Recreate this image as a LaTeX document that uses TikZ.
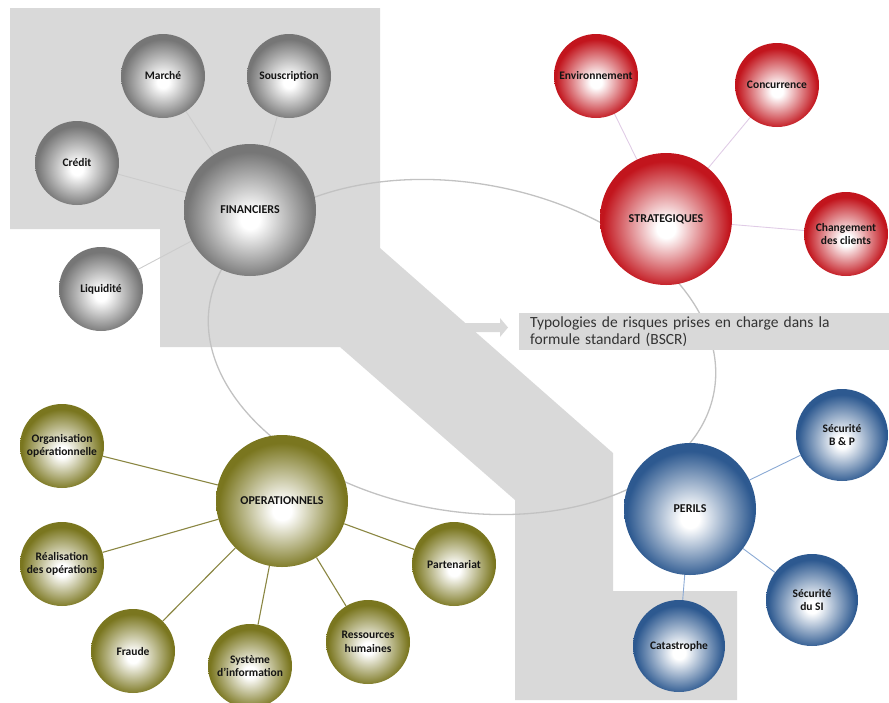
\documentclass[tikz,border=0pt]{standalone}
\usepackage{fontspec}
\setmainfont{Carlito}
\definecolor{panelgray}{HTML}{D9D9D9}
\definecolor{orbitgray}{HTML}{C2C2C2}
\definecolor{labelink}{HTML}{141414}
\definecolor{notetext}{HTML}{333333}
\definecolor{hubgray}{HTML}{767676}
\definecolor{hubred}{HTML}{C2151D}
\definecolor{hubolive}{HTML}{7A761F}
\definecolor{hubblue}{HTML}{2D5990}
\definecolor{linkgray}{HTML}{CCCCCC}
\definecolor{linkred}{HTML}{E0CCE6}
\definecolor{linkolive}{HTML}{8A8642}
\definecolor{linkblue}{HTML}{8AA9D4}
% soft balls: white core slightly below centre, family colour at the rim
% (the central 50bp of a shading covers the shaded path, so the rim sits at 25bp)
\pgfdeclareradialshading{ballgray}{\pgfpoint{0bp}{-4bp}}{color(0bp)=(white); color(3.5bp)=(white); color(24bp)=(hubgray); color(50bp)=(hubgray)}
\pgfdeclareradialshading{ballred}{\pgfpoint{0bp}{-4bp}}{color(0bp)=(white); color(3.5bp)=(white); color(24bp)=(hubred); color(50bp)=(hubred)}
\pgfdeclareradialshading{ballolive}{\pgfpoint{0bp}{-4bp}}{color(0bp)=(white); color(3.5bp)=(white); color(24bp)=(hubolive); color(50bp)=(hubolive)}
\pgfdeclareradialshading{ballblue}{\pgfpoint{0bp}{-4bp}}{color(0bp)=(white); color(3.5bp)=(white); color(24bp)=(hubblue); color(50bp)=(hubblue)}
\pgfdeclarelayer{back}
\pgfsetlayers{back,main}
\begin{document}
\begin{tikzpicture}[x=1pt,y=-1pt,
  bubble/.style={circle, inner sep=0pt, align=center, text=labelink,
    font=\bfseries\fontsize{11.5}{13.5}\selectfont},
  hub/.style={bubble, minimum size=132pt, font=\bfseries\fontsize{12}{14}\selectfont},
  sat/.style={bubble, minimum size=84pt},
  bigsat/.style={bubble, minimum size=92pt},
  grayball/.style={shading=ballgray},
  redball/.style={shading=ballred},
  oliveball/.style={shading=ballolive},
  blueball/.style={shading=ballblue},
  orbit/.style={draw=orbitgray, line width=1.3pt},
  glink/.style={draw=linkgray, line width=0.9pt},
  rlink/.style={draw=linkred, line width=0.9pt},
  olink/.style={draw=linkolive, line width=1.1pt},
  blink/.style={draw=linkblue, line width=0.9pt},
  note/.style={fill=panelgray, anchor=north west, minimum width=370pt,
    text width=348pt, minimum height=37pt, inner xsep=11pt, inner ysep=2.5pt,
    align=left, text=notetext, font=\fontsize{15.5}{17}\selectfont}
]
\useasboundingbox (0,0) rectangle (889,702);

% financial family
\node[hub, grayball] (fin) at (250,210) {FINANCIERS};
\node[sat, grayball] (marche) at (163,76) {Marché};
\node[sat, grayball] (sousc) at (289,76) {Souscription};
\node[sat, grayball] (credit) at (77,163) {Crédit};
\node[sat, grayball] (liqui) at (101,289) {Liquidité};

% strategic family
\node[hub, redball] (strat) at (666,219) {STRATEGIQUES};
\node[sat, redball] (envir) at (596,76) {Environnement};
\node[sat, redball] (concu) at (777,85) {Concurrence};
\node[sat, redball] (clients) at (846,234) {Changement\\des clients};

% operational family
\node[hub, oliveball] (oper) at (282,501) {OPERATIONNELS};
\node[sat, oliveball] (orga) at (62,446) {Organisation\\opérationnelle};
\node[sat, oliveball] (reali) at (62,564) {Réalisation\\des opérations};
\node[sat, oliveball] (fraude) at (133,651) {Fraude};
\node[sat, oliveball] (sysinfo) at (250,666) {Système\\d’information};
\node[sat, oliveball] (rh) at (368,642) {Ressources\\humaines};
\node[sat, oliveball] (parten) at (454,564) {Partenariat};

% peril family
\node[hub, blueball] (perils) at (690,509) {PERILS};
\node[bigsat, blueball] (secbp) at (842,435) {Sécurité\\B \& P};
\node[bigsat, blueball] (secsi) at (812,600) {Sécurité\\du SI};
\node[bigsat, blueball] (catas) at (679,646) {Catastrophe};

% caption box
\node[note] (caption) at (519,313) {Typologies de risques prises en charge dans la\\formule standard (BSCR)};

\begin{pgfonlayer}{back}
  % grey band running from the financial corner to the catastrophe corner
  \fill[panelgray] (10,8) -- (380,8) -- (380,248) -- (613,453) -- (613,591)
    -- (737,591) -- (737,700) -- (515,700) -- (515,500) -- (340,347)
    -- (160,347) -- (160,229) -- (10,229) -- cycle;
  % small arrow pointing at the caption
  \fill[panelgray] (455,323) -- (500,323) -- (500,318) -- (508,327.5)
    -- (500,337) -- (500,332) -- (455,332) -- cycle;
  % orbit linking the four families
  \draw[orbit, shift={(462,347)}, rotate=-10] (0,0) ellipse [x radius=256pt, y radius=164pt];
  % spokes
  \draw[glink] (fin) -- (marche);
  \draw[glink] (fin) -- (sousc);
  \draw[glink] (fin) -- (credit);
  \draw[glink] (fin) -- (liqui);
  \draw[rlink] (strat) -- (envir);
  \draw[rlink] (strat) -- (concu);
  \draw[rlink] (strat) -- (clients);
  \draw[olink] (oper) -- (orga);
  \draw[olink] (oper) -- (reali);
  \draw[olink] (oper) -- (fraude);
  \draw[olink] (oper) -- (sysinfo);
  \draw[olink] (oper) -- (rh);
  \draw[olink] (oper) -- (parten);
  \draw[blink] (perils) -- (secbp);
  \draw[blink] (perils) -- (secsi);
  \draw[blink] (perils) -- (catas);
\end{pgfonlayer}
\end{tikzpicture}
\end{document}
